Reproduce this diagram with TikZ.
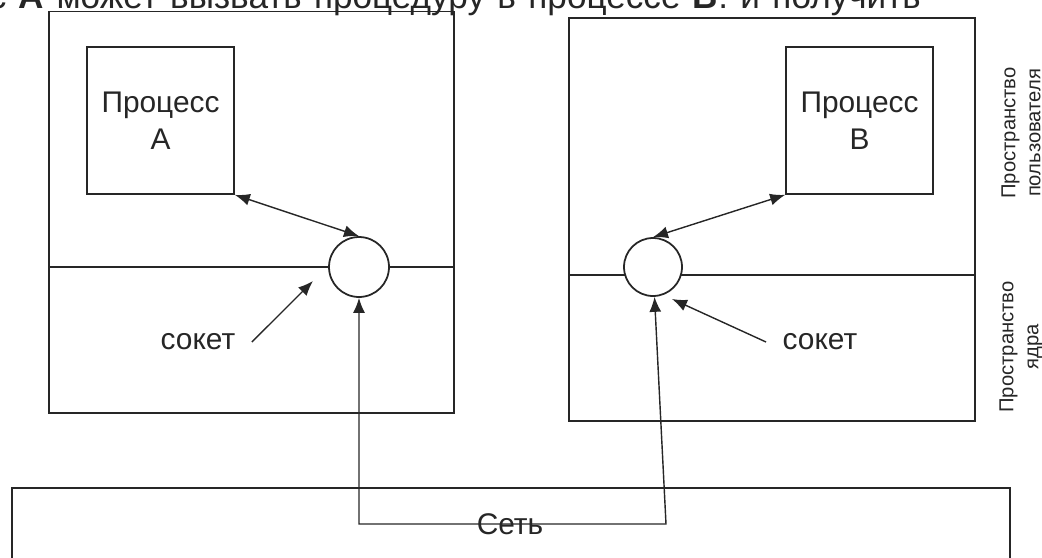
\documentclass[tikz,border=0pt]{standalone}
\usepackage{fontspec}
\setmainfont{Liberation Sans}
\usetikzlibrary{arrows.meta}

\begin{document}
\begin{tikzpicture}[x=0.02cm, y=-0.02cm, line width=1pt, color=black!85,
    >={Latex[length=0.3cm,width=0.24cm]}, font=\fontsize{17}{21}\selectfont]
\useasboundingbox (0,0) rectangle (1042,558);

% heading line, mostly above the page (justified)
\node[anchor=base west, inner sep=0pt, font=\fontsize{20}{24}\selectfont] (heading) at (-12,8)
    {\hbox to 18.64cm{с \textbf{А} может вызвать процедуру в процессе \textbf{В}. и получить}};

% hosts
\begin{scope}[every node/.style={draw, minimum width=8.1cm, minimum height=8.03cm}]
\node (hostA) at (251.5,212.2) {};
\node (hostB) at (772,219.5) [minimum width=8.12cm, minimum height=8.06cm] {};
\end{scope}
% user/kernel border
\draw (49,267) -- (454,267);
\draw (569,275) -- (975,275);

% processes
\begin{scope}[every node/.style={draw, minimum size=2.94cm, align=center}]
\node (procA) at (160.5,120.5) {Процесс\\А};
\node (procB) at (859.5,120.5) {Процесс\\В};
\end{scope}

% sockets
\begin{scope}[every node/.style={draw, circle, fill=white, minimum size=1.2cm, inner sep=0pt}]
\node (sockA) at (359,267) {};
\node (sockB) at (653,267) [minimum size=1.16cm] {};
\end{scope}

% network
\node[draw, minimum width=19.96cm, minimum height=1.64cm] (net) at (511,529) {};
\node (netname) at (510,524) {Сеть};

% socket labels
\node[inner xsep=9pt] (lblA) at (198,342) {сокет};
\node[inner xsep=9pt] (lblB) at (820,342) {сокет};
\coordinate (tipA) at (313,281);
\coordinate (tipB) at (672,299);
\coordinate (netA) at (359,524);
\coordinate (netB) at (666,524);

\begin{scope}[line width=0.8pt]
\draw[<->] (procA.south east) -- (sockA.north);
\draw[<->] (procB.south west) -- (sockB.north);
\draw[->] (lblA.east) -- (tipA);
\draw[->] (lblB.west) -- (tipB);
\draw[<->] (sockA) -- (netA) -- (netB) -- (sockB);
\end{scope}

% side notes
\begin{scope}[every node/.style={rotate=90, align=center, font=\fontsize{11.5}{14.2}\selectfont}]
\node (userspace) at (1021,133) {Пространство\\пользователя};
\node (kernelspace) at (1021,347) {Пространство\\ядра};
\end{scope}
\end{tikzpicture}
\end{document}
